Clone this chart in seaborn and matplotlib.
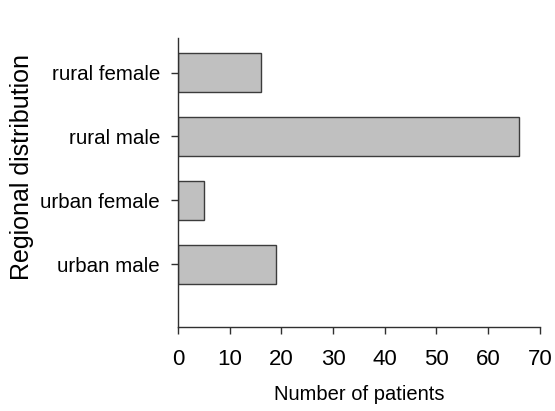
import matplotlib
matplotlib.use("Agg")
import matplotlib.pyplot as plt
import seaborn as sns
import pandas as pd

groups = ["rural female", "rural male", "urban female", "urban male"]
patients = [16, 66, 5, 19]

df = pd.DataFrame({"group": groups, "patients": patients})

sns.set_style("white")
plt.rcParams["font.family"] = ["Liberation Sans", "DejaVu Sans"]
plt.rcParams["text.color"] = "black"
plt.rcParams["xtick.color"] = "black"
plt.rcParams["ytick.color"] = "black"
plt.rcParams["axes.labelcolor"] = "black"

fig = plt.figure(figsize=(5.55, 4.11), dpi=100)
ax = fig.add_axes([0.3207, 0.2044, 0.652, 0.7031])

sns.barplot(data=df, x="patients", y="group", orient="h", color="#c0c0c0",
            edgecolor="#3c3c3c", linewidth=1.0, width=0.6, saturation=1, ax=ax)

ax.set_xlim(0, 70)
ax.set_ylim(3.98, -0.54)
ax.set_xticks(range(0, 71, 10))

sns.despine(ax=ax, top=True, right=True)
for s in ["left", "bottom"]:
    ax.spines[s].set_color("#303030")
    ax.spines[s].set_linewidth(1.0)

ax.tick_params(axis="x", length=5, width=1, color="#303030", direction="out",
               pad=11, labelsize=16, bottom=True)
ax.tick_params(axis="y", length=5, width=1, color="#303030", direction="out",
               pad=8, labelsize=14.8, left=True)

ax.set_xlabel("Number of patients", fontsize=14.5, labelpad=11)
ax.set_ylabel("Regional distribution", fontsize=18)
ax.yaxis.set_label_coords(-0.398, 0.554)

fig.savefig("out.png", dpi=100)
